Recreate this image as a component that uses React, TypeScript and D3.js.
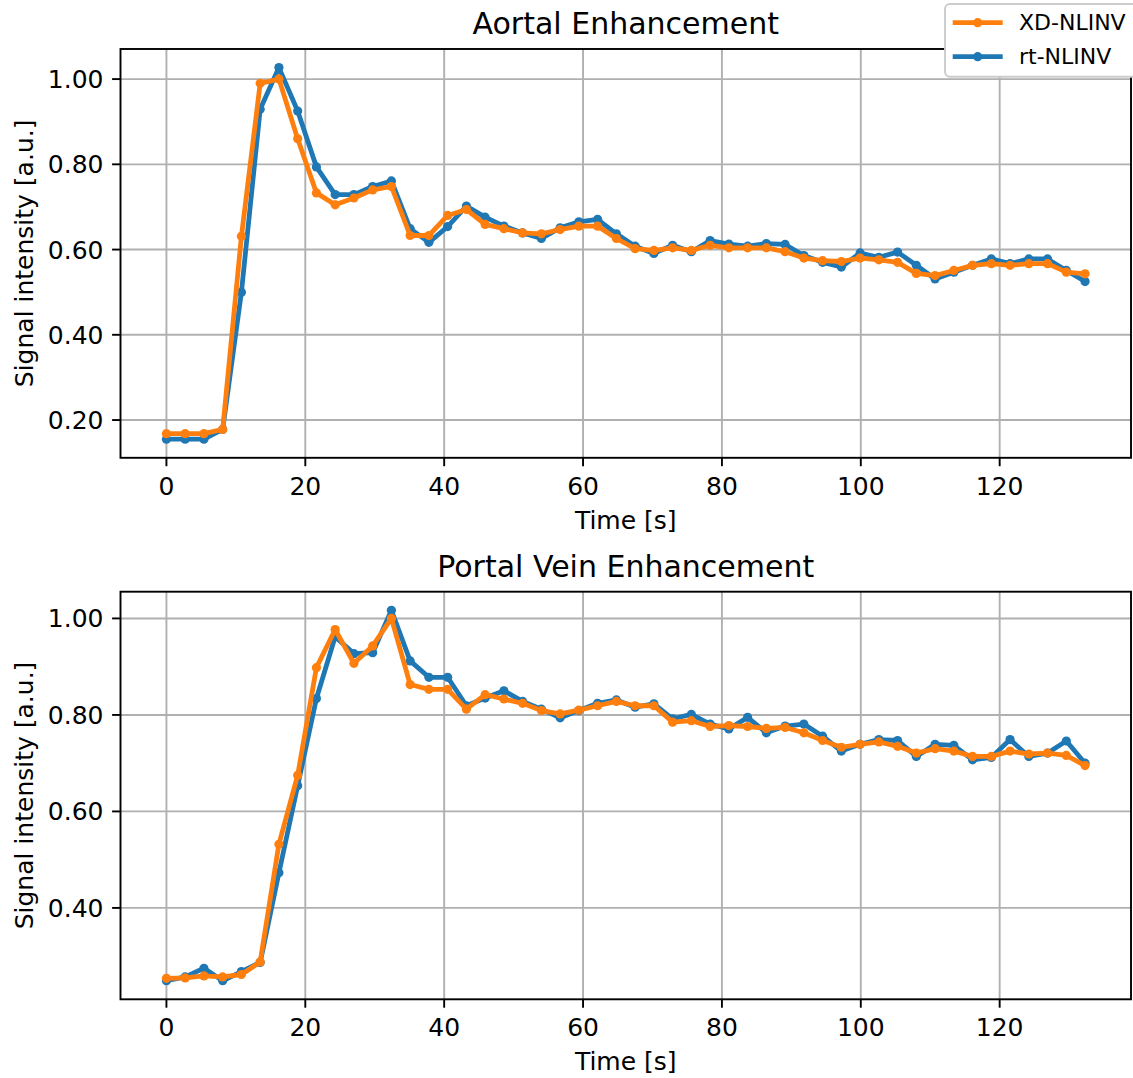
import React from 'react';
import * as d3 from 'd3';

// time axis, s
const times = [
  0, 2.7, 5.4, 8.1, 10.8, 13.5, 16.2, 18.9, 21.6, 24.3,
  27.0, 29.7, 32.4, 35.1, 37.8, 40.5, 43.2, 45.9, 48.6, 51.3,
  54.0, 56.7, 59.4, 62.1, 64.8, 67.5, 70.2, 72.9, 75.6, 78.3,
  81.0, 83.7, 86.4, 89.1, 91.8, 94.5, 97.2, 99.9, 102.6, 105.3,
  108.0, 110.7, 113.4, 116.1, 118.8, 121.5, 124.2, 126.9, 129.6, 132.3,
];

const aortaXd = [
  0.168, 0.168, 0.168, 0.178, 0.631, 0.990, 1.000, 0.860, 0.733, 0.705,
  0.721, 0.740, 0.748, 0.633, 0.633, 0.680, 0.694, 0.659, 0.649, 0.639,
  0.637, 0.647, 0.655, 0.655, 0.626, 0.602, 0.598, 0.604, 0.598, 0.610,
  0.604, 0.604, 0.604, 0.595, 0.580, 0.574, 0.572, 0.580, 0.576, 0.570,
  0.544, 0.539, 0.551, 0.563, 0.567, 0.563, 0.567, 0.567, 0.547, 0.543,
];
const aortaRt = [
  0.155, 0.155, 0.155, 0.178, 0.500, 0.929, 1.027, 0.925, 0.794, 0.729,
  0.729, 0.748, 0.761, 0.649, 0.617, 0.654, 0.702, 0.676, 0.655, 0.639,
  0.626, 0.651, 0.665, 0.671, 0.637, 0.608, 0.591, 0.610, 0.595, 0.621,
  0.613, 0.608, 0.614, 0.612, 0.586, 0.570, 0.559, 0.592, 0.582, 0.594,
  0.563, 0.531, 0.547, 0.563, 0.578, 0.567, 0.578, 0.578, 0.551, 0.525,
];

const portalXd = [
  0.254, 0.255, 0.259, 0.257, 0.262, 0.288, 0.532, 0.675, 0.898, 0.977,
  0.907, 0.943, 1.000, 0.863, 0.853, 0.853, 0.812, 0.842, 0.833, 0.824,
  0.809, 0.802, 0.810, 0.819, 0.828, 0.819, 0.819, 0.785, 0.788, 0.776,
  0.778, 0.776, 0.772, 0.774, 0.763, 0.747, 0.733, 0.739, 0.744, 0.735,
  0.721, 0.730, 0.725, 0.714, 0.714, 0.725, 0.719, 0.721, 0.716, 0.695,
];
const portalRt = [
  0.249, 0.257, 0.275, 0.249, 0.268, 0.287, 0.473, 0.653, 0.834, 0.962,
  0.927, 0.929, 1.017, 0.912, 0.878, 0.878, 0.819, 0.835, 0.850, 0.828,
  0.812, 0.794, 0.809, 0.824, 0.831, 0.816, 0.823, 0.792, 0.801, 0.781,
  0.771, 0.795, 0.763, 0.777, 0.781, 0.756, 0.725, 0.739, 0.749, 0.747,
  0.714, 0.739, 0.737, 0.707, 0.712, 0.749, 0.714, 0.721, 0.746, 0.700,
];

const xTicks = [0, 20, 40, 60, 80, 100, 120];
const aortaYTicks = [0.2, 0.4, 0.6, 0.8, 1.0];
const portalYTicks = [0.4, 0.6, 0.8, 1.0];

const W = 1133;
const H = 1078;
const BLUE = '#1f77b4';
const ORANGE = '#ff7f0e';
const FONT = "'DejaVu Sans', sans-serif";
const LW = 4.8;
const MR = 4.6;

// matplotlib style 5% margins
const padded = (ext: [number, number]): [number, number] => {
  const p = (ext[1] - ext[0]) * 0.05;
  return [ext[0] - p, ext[1] + p];
};

type PanelProps = {
  title: string;
  top: number;
  bottom: number;
  xd: number[];
  rt: number[];
  yTicks: number[];
};

function Panel({ title, top, bottom, xd, rt, yTicks }: PanelProps) {
  const left = 120.5;
  const right = 1131;
  const x = d3
    .scaleLinear()
    .domain(padded(d3.extent(times) as [number, number]))
    .range([left, right]);
  const y = d3
    .scaleLinear()
    .domain(padded(d3.extent([...xd, ...rt]) as [number, number]))
    .range([bottom, top]);
  const line = d3
    .line<number>()
    .x((_, i) => x(times[i]))
    .y((d) => y(d));

  const series = [
    { vals: rt, color: BLUE },
    { vals: xd, color: ORANGE },
  ];

  return (
    <g>
      {/* grid */}
      {xTicks.map((t) => (
        <line key={'gx' + t} x1={x(t)} x2={x(t)} y1={top} y2={bottom} stroke="#b0b0b0" strokeWidth={1.9} />
      ))}
      {yTicks.map((t) => (
        <line key={'gy' + t} x1={left} x2={right} y1={y(t)} y2={y(t)} stroke="#b0b0b0" strokeWidth={1.9} />
      ))}

      {series.map((s) => (
        <g key={s.color}>
          <path d={line(s.vals) || ''} fill="none" stroke={s.color} strokeWidth={LW} strokeLinejoin="round" />
          {s.vals.map((v, i) => (
            <circle key={i} cx={x(times[i])} cy={y(v)} r={MR} fill={s.color} />
          ))}
        </g>
      ))}

      <rect x={left} y={top} width={right - left} height={bottom - top} fill="none" stroke="#000" strokeWidth={1.9} />

      {/* x ticks */}
      {xTicks.map((t) => (
        <g key={'tx' + t}>
          <line x1={x(t)} x2={x(t)} y1={bottom} y2={bottom + 8.4} stroke="#000" strokeWidth={1.9} />
          <text x={x(t)} y={bottom + 37} textAnchor="middle" fontSize={25} fontFamily={FONT} fill="#000">
            {t}
          </text>
        </g>
      ))}
      {/* y ticks */}
      {yTicks.map((t) => (
        <g key={'ty' + t}>
          <line x1={left - 8.4} x2={left} y1={y(t)} y2={y(t)} stroke="#000" strokeWidth={1.9} />
          <text x={left - 17} y={y(t) + 9} textAnchor="end" fontSize={25} fontFamily={FONT} fill="#000">
            {t.toFixed(2)}
          </text>
        </g>
      ))}

      <text x={(left + right) / 2} y={bottom + 71} textAnchor="middle" fontSize={25} fontFamily={FONT} fill="#000">
        Time [s]
      </text>
      <text
        transform={`translate(33,${(top + bottom) / 2}) rotate(-90)`}
        textAnchor="middle"
        fontSize={25}
        fontFamily={FONT}
        fill="#000"
      >
        Signal intensity [a.u.]
      </text>
      <text x={(left + right) / 2} y={top - 14.7} textAnchor="middle" fontSize={30} fontFamily={FONT} fill="#000">
        {title}
      </text>
    </g>
  );
}

function Legend() {
  const items = [
    { label: 'XD-NLINV', color: ORANGE },
    { label: 'rt-NLINV', color: BLUE },
  ];
  return (
    <g>
      <rect x={945} y={4} width={200} height={72.7} rx={5} fill="#fff" stroke="#cccccc" strokeWidth={1.9} />
      {items.map((it, i) => {
        const cy = 22.7 + i * 34;
        return (
          <g key={it.label}>
            <line x1={952.7} x2={1002.7} y1={cy} y2={cy} stroke={it.color} strokeWidth={LW} />
            <circle cx={977.7} cy={cy} r={MR} fill={it.color} />
            <text x={1019} y={cy + 7.5} fontSize={22} fontFamily={FONT} fill="#000">
              {it.label}
            </text>
          </g>
        );
      })}
    </g>
  );
}

export default function App() {
  return (
    <svg
      width={W}
      height={H}
      viewBox={`0 0 ${W} ${H}`}
      style={{ position: 'absolute', left: 0, top: 0, background: '#fff' }}
    >
      <rect width={W} height={H} fill="#fff" />
      <Panel title="Aortal Enhancement" top={49} bottom={457.8} xd={aortaXd} rt={aortaRt} yTicks={aortaYTicks} />
      <Panel
        title="Portal Vein Enhancement"
        top={591.7}
        bottom={999.3}
        xd={portalXd}
        rt={portalRt}
        yTicks={portalYTicks}
      />
      <Legend />
    </svg>
  );
}
